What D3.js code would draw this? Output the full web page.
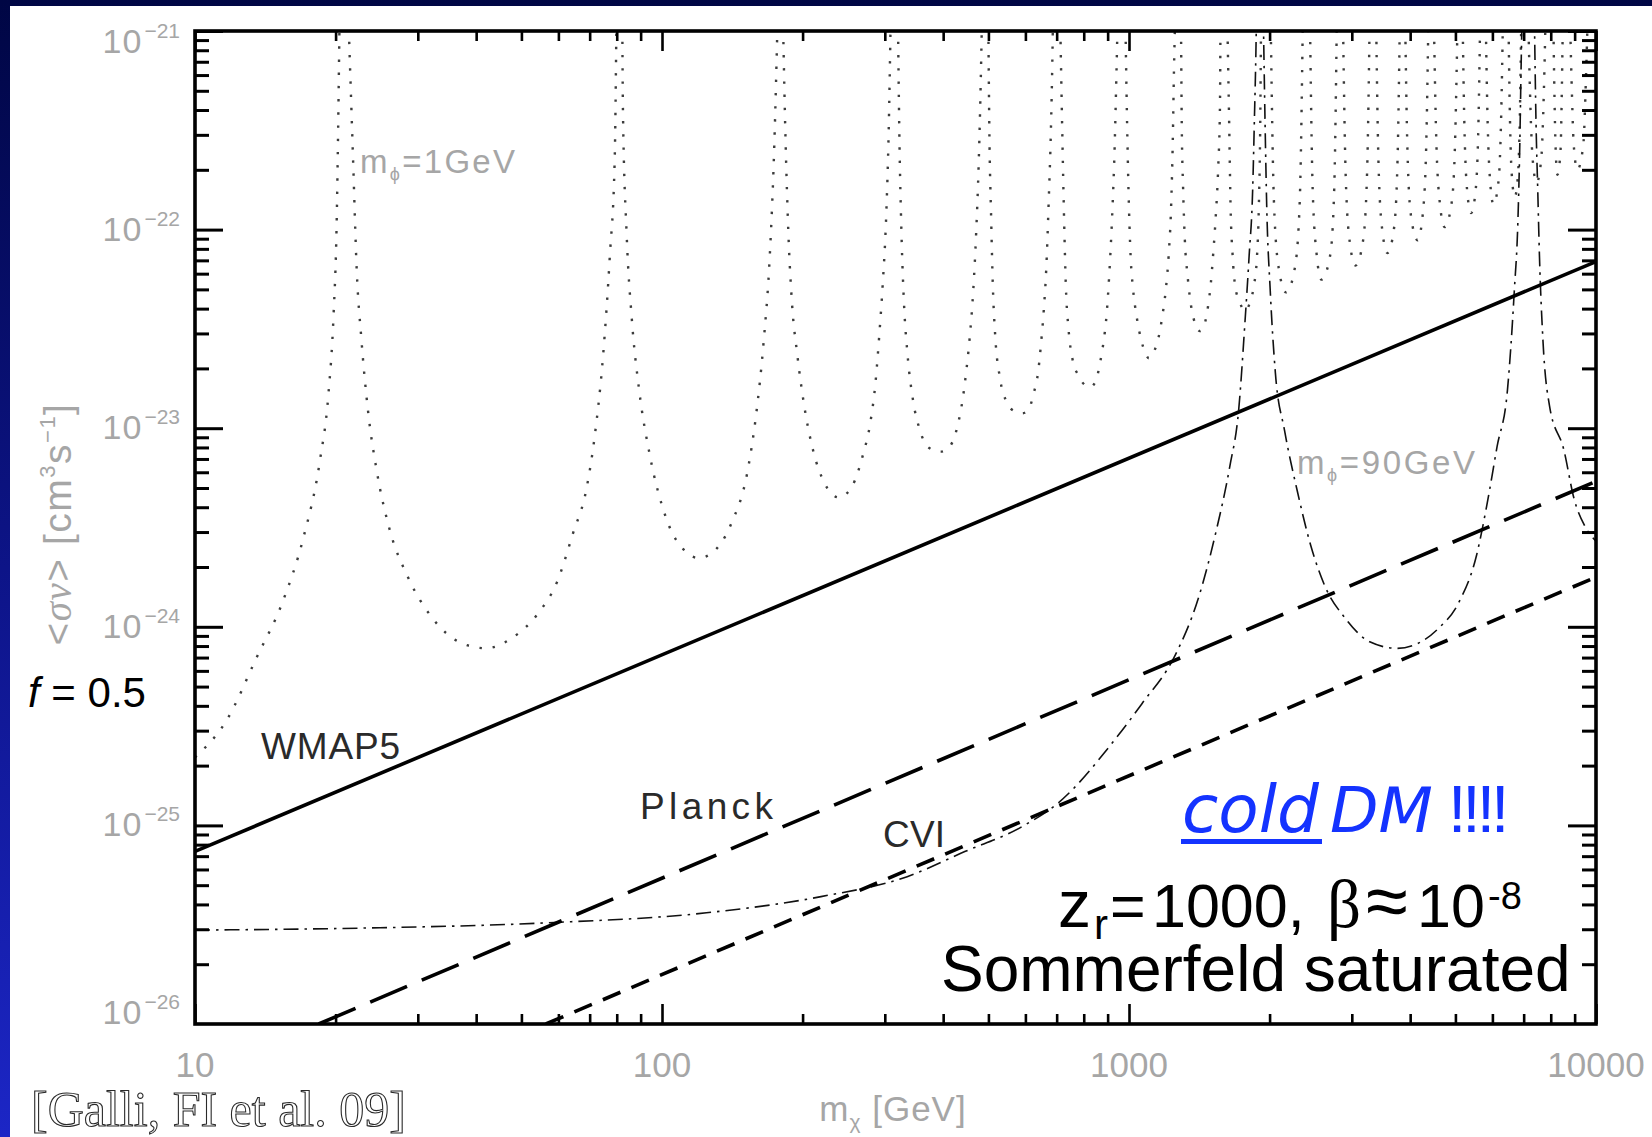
<!DOCTYPE html>
<html>
<head>
<meta charset="utf-8">
<script src="https://cdn.jsdelivr.net/npm/d3@7"></script>
<style>
html, body { margin: 0; padding: 0; background: #fff; overflow: hidden; }
svg { display: block; }
</style>
</head>
<body>
<svg id="chart" width="1652" height="1137"></svg>
<script>
// ---- axis ranges and tick labels ----
const massDomain = [10, 10000];           // m_chi [GeV]
const sigmaDomain = [1e-26, 1e-21];       // <sigma v> [cm^3 s^-1]
const xTickValues = [10, 100, 1000, 10000];
const xTickLabels = ["10", "100", "1000", "10000"];
const yTickValues = [1e-21, 1e-22, 1e-23, 1e-24, 1e-25, 1e-26];
const yTickExponents = ["\u221221", "\u221222", "\u221223", "\u221224", "\u221225", "\u221226"];

// ---- CMB constraint lines [m_chi, <sigma v>] ----
const wmap5 = [[10, 7.4e-26], [10000, 6.9e-23]];
const planck = [[18.4, 1e-26], [10000, 5.4e-24]];
const cvi = [[56.4, 1e-26], [10000, 1.78e-24]];

// ---- Sommerfeld-enhanced cross section, m_phi = 90 GeV (pieces between resonances) ----
const phi90Segments = [
  [[10, 2.97e-26], [22.8, 3.04e-26], [56.4, 3.23e-26], [124.5, 3.63e-26], [219, 4.38e-26],
   [335, 5.52e-26], [445, 7.38e-26], [590, 9.86e-26], [706, 1.3e-25], [940, 2.77e-25],
   [1066, 4.1e-25], [1256, 7.2e-25], [1406, 1.38e-24], [1534, 2.98e-24], [1644, 6.43e-24],
   [1717, 1.23e-23], [1771, 3.39e-23], [1808, 7.36e-23], [1840, 1.59e-22], [1855, 3.44e-22],
   [1871, 8.7e-22], [1875, 1.2e-21]],
  [[1939, 1.2e-21], [1956, 3.44e-22], [1972, 1.31e-22], [2006, 4.99e-23], [2058, 1.9e-23],
   [2152, 9.8e-24], [2289, 4.91e-24], [2451, 2.56e-24], [2625, 1.61e-24], [2908, 1.1e-24],
   [3277, 8.4e-25], [3750, 7.79e-25], [4150, 8.24e-25], [4595, 9.8e-25], [5088, 1.33e-24],
   [5546, 2.28e-24], [5834, 4.06e-24], [6141, 8.09e-24], [6463, 1.56e-23], [6687, 4.99e-23],
   [6802, 1.08e-22], [6860, 2.34e-22], [6919, 7.46e-22], [6946, 1.2e-21]],
  [[7379, 1.2e-21], [7440, 3.44e-22], [7503, 1.59e-22], [7567, 7.36e-23], [7697, 2.79e-23],
   [7950, 1.3e-23], [8532, 7.8e-24], [8980, 4.39e-24], [9460, 3.22e-24], [10000, 2.7e-24]]
];

// ---- Sommerfeld-enhanced cross section, m_phi = 1 GeV (one lobe between neighbouring resonances) ----
const phi1Lobes = [
  [[10, 2.2e-25], [11.7, 3.4e-25], [13.55, 7.0e-25], [15.45, 1.36e-24], [17.06, 2.8e-24],
   [18.5, 6.8e-24], [19.3, 1.47e-23], [19.8, 3.7e-23], [20.1, 1.04e-22], [20.4, 1.2e-21]],
  [[21.3, 1.2e-21], [21.8, 2.26e-22], [22.2, 6.2e-23], [22.7, 2.86e-23], [23.5, 1.19e-23],
   [24.5, 6.1e-24], [26.1, 3.1e-24], [28.6, 1.77e-24], [32.2, 1.11e-24], [36.9, 8.35e-25],
   [42.0, 7.8e-25], [47.8, 8.8e-25], [54.3, 1.17e-24], [59.6, 1.68e-24], [64.5, 2.96e-24],
   [68.9, 4.95e-24], [71.8, 9.2e-24], [74.8, 2.33e-23], [77.3, 7.3e-23], [79.2, 2.26e-22],
   [79.9, 1.2e-21]],
  [[82.2, 1.2e-21], [82.5, 3.87e-22], [84.0, 9.53e-23], [86.2, 3.51e-23], [89.3, 1.57e-23],
   [94.1, 7.38e-24], [101.8, 3.59e-24], [113.1, 2.36e-24], [119.8, 2.22e-24], [126.8, 2.32e-24],
   [140.8, 3.32e-24], [152.4, 6.04e-24], [159.2, 1.19e-23], [164.9, 2.65e-23], [170.2, 7.5e-23],
   [173.9, 2.59e-22], [176.9, 1.2e-21]],
  [[181.5, 1.2e-21], [183.3, 3.87e-22], [186.5, 9.53e-23], [189.8, 4.29e-23], [194.8, 2.36e-23],
   [201.7, 1.29e-23], [210.8, 7.68e-24], [222.2, 5.36e-24], [239.1, 4.48e-24], [255.7, 5.14e-24],
   [269.5, 7.38e-24], [279.2, 1.06e-23], [286.6, 1.71e-23], [291.7, 2.87e-23], [296.8, 5.23e-23],
   [302.0, 1.16e-22], [305.8, 3.16e-22], [308.9, 1.2e-21]],
  [[320, 1.2e-21], [322.2, 3.16e-22], [325.7, 9.53e-23], [329.7, 4.29e-23], [335.5, 2.36e-23],
   [344.5, 1.4e-23], [356.8, 9.75e-24], [372.8, 7.97e-24], [395.1, 7.62e-24], [414.1, 8.15e-24],
   [429.1, 1.02e-23], [440.4, 1.4e-23], [448.1, 1.92e-23], [456.0, 2.87e-23], [464.2, 5.03e-23],
   [470.6, 9.53e-23], [476.5, 2.12e-22], [480.7, 4.72e-22], [484.5, 1.2e-21]],
  [[499.6, 1.2e-21], [502.3, 3.16e-22], [506.7, 1.16e-22], [511.0, 5.23e-23], [517.3, 2.87e-23],
   [529.5, 1.78e-23], [548.3, 1.34e-23], [568.0, 1.22e-23], [591.4, 1.19e-23], [609.2, 1.24e-23],
   [625.6, 1.51e-23], [638.9, 1.92e-23], [647.9, 2.65e-23], [657.0, 3.95e-23], [665.1, 6.4e-23],
   [673.3, 1.42e-22], [680.4, 3.16e-22], [685.2, 7.0e-22], [687.6, 1.2e-21]],
  [[712, 1.2e-21], [719.5, 3.16e-22], [725.9, 1.16e-22], [732.4, 5.23e-23], [742.6, 3.11e-23],
   [758.5, 2.17e-23], [778.7, 1.85e-23], [806.7, 1.64e-23], [825.1, 1.61e-23], [850.0, 1.74e-23],
   [865.0, 2.08e-23], [880.6, 2.65e-23], [896.0, 3.8e-23], [907.1, 5.9e-23], [920.1, 1.16e-22],
   [931.6, 2.59e-22], [939.4, 5.76e-22], [946, 1.2e-21]],
  [[982, 1.2e-21], [990.6, 3.44e-22], [997.5, 1.59e-22], [1007.9, 7.38e-23], [1020.4, 5.0e-23],
   [1038.2, 3.66e-23], [1061.6, 2.79e-23], [1084.2, 2.39e-23], [1103.1, 2.25e-23], [1132.2, 2.44e-23],
   [1158.3, 2.9e-23], [1178.5, 3.66e-23], [1199.1, 5.0e-23], [1215.8, 7.38e-23], [1230.8, 1.31e-22],
   [1241.1, 2.84e-22], [1248, 6.2e-22], [1256, 1.2e-21]],
  [[1292, 1.2e-21], [1297, 3.44e-22], [1306, 1.59e-22], [1316.9, 8.9e-23], [1335.2, 5.82e-23],
   [1358.5, 4.11e-23], [1387.6, 3.33e-23], [1419.1, 3.08e-23], [1450.8, 3.33e-23], [1476.6, 4.11e-23],
   [1497.2, 5.38e-23], [1515, 7.62e-23], [1534, 1.17e-22], [1552.8, 2.08e-22], [1566, 4.18e-22],
   [1570, 1.2e-21]],
  [[1623, 1.2e-21], [1638.7, 3.44e-22], [1650, 1.31e-22], [1667, 7.38e-23], [1688, 5.19e-23],
   [1723.5, 4.36e-23], [1771.8, 3.9e-23], [1818.8, 4.36e-23], [1850.5, 5.19e-23], [1880, 7.38e-23],
   [1897, 1.31e-22], [1910, 3.44e-22], [1918, 1.2e-21]],
  [[2010, 1.2e-21], [2043, 1.4e-22], [2092, 6.4e-23], [2170, 4.83e-23], [2265, 6.4e-23], [2321, 1.4e-22], [2357, 1.2e-21]],
  [[2440, 1.2e-21], [2473, 1.62e-22], [2523, 7.45e-23], [2582, 5.6e-23], [2697, 7.45e-23], [2751, 1.62e-22], [2787, 1.2e-21]],
  [[2871, 1.2e-21], [2910, 1.91e-22], [2968, 8.76e-23], [3055, 6.59e-23], [3170, 8.76e-23], [3234, 1.91e-22], [3277, 1.2e-21]],
  [[3381, 1.2e-21], [3421, 2.21e-22], [3483, 1.01e-22], [3575, 7.63e-23], [3693, 1.01e-22], [3758, 2.21e-22], [3803, 1.2e-21]],
  [[3901, 1.2e-21], [3946, 2.56e-22], [4015, 1.18e-22], [4150, 8.84e-23], [4254, 1.18e-22], [4328, 2.56e-22], [4378, 1.2e-21]],
  [[4494, 1.2e-21], [4547, 2.99e-22], [4629, 1.37e-22], [4740, 1.03e-22], [4909, 1.37e-22], [4996, 2.99e-22], [5055, 1.2e-21]],
  [[5179, 1.2e-21], [5224, 3.5e-22], [5293, 1.61e-22], [5400, 1.21e-22], [5529, 1.61e-22], [5602, 3.5e-22], [5651, 1.2e-21]],
  [[5804, 1.2e-21], [5854, 3.9e-22], [5930, 1.78e-22], [6030, 1.34e-22], [6188, 1.78e-22], [6268, 3.9e-22], [6322, 1.2e-21]],
  [[6493, 1.2e-21], [6535, 4.2e-22], [6597, 1.94e-22], [6700, 1.46e-22], [6812, 1.94e-22], [6876, 4.2e-22], [6920, 1.2e-21]],
  [[7160, 1.2e-21], [7221, 5.0e-22], [7315, 2.29e-22], [7460, 1.72e-22], [7636, 2.29e-22], [7734, 5.0e-22], [7800, 1.2e-21]],
  [[8100, 1.2e-21], [8139, 5.5e-22], [8198, 2.5e-22], [8270, 1.89e-22], [8395, 2.5e-22], [8455, 5.5e-22], [8495, 1.2e-21]],
  [[8795, 1.2e-21], [8862, 5.8e-22], [8962, 2.66e-22], [9120, 2.0e-22], [9392, 2.66e-22], [9517, 5.8e-22], [9600, 1.2e-21]]
];

// ---- drawing ----
const W = 1652, H = 1137;
const plot = { left: 195, right: 1596, top: 31, bottom: 1024 };
const svg = d3.select("#chart");

const x = d3.scaleLog().domain(massDomain).range([plot.left, plot.right]);
const y = d3.scaleLog().domain(sigmaDomain).range([plot.bottom, plot.top]);

const defs = svg.append("defs");
const grad = defs.append("linearGradient").attr("id", "slideBg")
  .attr("x1", 0).attr("y1", 0).attr("x2", 0).attr("y2", 1);
grad.append("stop").attr("offset", "0%").attr("stop-color", "#000644");
grad.append("stop").attr("offset", "50%").attr("stop-color", "#0d1488");
grad.append("stop").attr("offset", "100%").attr("stop-color", "#1c26c6");
defs.append("clipPath").attr("id", "plotClip").append("rect")
  .attr("x", plot.left).attr("y", plot.top)
  .attr("width", plot.right - plot.left).attr("height", plot.bottom - plot.top);

// slide background and white figure panel
svg.append("rect").attr("width", W).attr("height", H).attr("fill", "url(#slideBg)");
svg.append("rect").attr("x", 10).attr("y", 6).attr("width", W - 10).attr("height", H - 6).attr("fill", "#fff");

const curves = svg.append("g").attr("clip-path", "url(#plotClip)");
const straight = d3.line().x(d => x(d[0])).y(d => y(d[1]));
const smooth = d3.line().x(d => x(d[0])).y(d => y(d[1])).curve(d3.curveMonotoneX);

// m_phi = 1 GeV : dotted
curves.selectAll("path.phi1").data(phi1Lobes).join("path")
  .attr("class", "phi1").attr("d", smooth)
  .attr("fill", "none").attr("stroke", "#3c3c3c").attr("stroke-width", 2.4)
  .attr("stroke-dasharray", "2.4,10.8");

// m_phi = 90 GeV : dash-dot
curves.selectAll("path.phi90").data(phi90Segments).join("path")
  .attr("class", "phi90").attr("d", smooth)
  .attr("fill", "none").attr("stroke", "#111").attr("stroke-width", 1.6)
  .attr("stroke-dasharray", "15,6,2.5,6");

// constraint lines
curves.append("path").datum(wmap5).attr("d", straight)
  .attr("fill", "none").attr("stroke", "#000").attr("stroke-width", 3.6);
curves.append("path").datum(planck).attr("d", straight)
  .attr("fill", "none").attr("stroke", "#000").attr("stroke-width", 3.6)
  .attr("stroke-dasharray", "40,16");
curves.append("path").datum(cvi).attr("d", straight)
  .attr("fill", "none").attr("stroke", "#000").attr("stroke-width", 3.6)
  .attr("stroke-dasharray", "19,12");

// axes: minor and major ticks on all four sides, pointing inward
const isMajor = v => Math.abs(Math.log10(v) - Math.round(Math.log10(v))) < 1e-9;
const xAll = x.ticks(), yAll = y.ticks();
const xMinor = xAll.filter(v => !isMajor(v)), xMajor = xAll.filter(isMajor);
const yMinor = yAll.filter(v => !isMajor(v)), yMajor = yAll.filter(isMajor);

function tickGroup(axis, tx, ty, width) {
  const g = svg.append("g").attr("transform", `translate(${tx},${ty})`).call(axis);
  g.select(".domain").remove();
  g.selectAll("text").remove();
  g.selectAll("line").attr("stroke", "#000").attr("stroke-width", width);
}
tickGroup(d3.axisBottom(x).tickValues(xMinor).tickSize(-10), 0, plot.bottom, 2.6);
tickGroup(d3.axisBottom(x).tickValues(xMajor).tickSize(-20), 0, plot.bottom, 2.6);
tickGroup(d3.axisTop(x).tickValues(xMinor).tickSize(-10), 0, plot.top, 2.6);
tickGroup(d3.axisTop(x).tickValues(xMajor).tickSize(-20), 0, plot.top, 2.6);
tickGroup(d3.axisLeft(y).tickValues(yMinor).tickSize(-14), plot.left, 0, 3);
tickGroup(d3.axisLeft(y).tickValues(yMajor).tickSize(-28), plot.left, 0, 3);
tickGroup(d3.axisRight(y).tickValues(yMinor).tickSize(-14), plot.right, 0, 3);
tickGroup(d3.axisRight(y).tickValues(yMajor).tickSize(-28), plot.right, 0, 3);

svg.append("rect").attr("x", plot.left).attr("y", plot.top)
  .attr("width", plot.right - plot.left).attr("height", plot.bottom - plot.top)
  .attr("fill", "none").attr("stroke", "#000").attr("stroke-width", 3.6);

// tick labels (grey, IDL style)
const grey = "#a6a6a6";
const sans = "'Liberation Sans', Arial, sans-serif";
const labels = svg.append("g").attr("font-family", sans).attr("fill", grey);
labels.selectAll("text.xl").data(xTickValues).join("text")
  .attr("class", "xl").attr("x", d => x(d)).attr("y", plot.bottom + 53)
  .attr("text-anchor", "middle").attr("font-size", 35)
  .text((d, i) => xTickLabels[i]);
yTickValues.forEach((v, i) => {
  const cy = Math.max(plot.top + 11, Math.min(plot.bottom - 11, y(v)));
  const t = labels.append("text").attr("x", 180).attr("y", cy + 11)
    .attr("text-anchor", "end");
  t.append("tspan").attr("font-size", 34).attr("letter-spacing", 1).text("10");
  t.append("tspan").attr("font-size", 21).attr("dx", 2).attr("dy", -15).text(yTickExponents[i]);
});

// axis titles
const xt = labels.append("text").attr("x", 893).attr("y", 1121).attr("text-anchor", "middle")
  .attr("font-size", 35).attr("letter-spacing", 1);
xt.append("tspan").text("m");
xt.append("tspan").attr("font-size", 21).attr("dy", 8).text("\u03c7");
xt.append("tspan").attr("dy", -8).text(" [GeV]");

const yt = labels.append("text").attr("transform", "translate(71,524) rotate(-90)")
  .attr("text-anchor", "middle").attr("font-size", 39).attr("letter-spacing", 1.5);
yt.append("tspan").text("<");
yt.append("tspan").attr("font-family", "'Liberation Serif', serif").attr("font-style", "italic").text("\u03c3v");
yt.append("tspan").text("> [cm");
yt.append("tspan").attr("font-size", 22).attr("dy", -16).text("3");
yt.append("tspan").attr("dy", 16).text("s");
yt.append("tspan").attr("font-size", 22).attr("dy", -16).text("\u22121");
yt.append("tspan").attr("dy", 16).text("]");

// curve labels
function massLabel(xp, yp, mass, len) {
  const t = labels.append("text").attr("x", xp).attr("y", yp).attr("font-size", 33)
    .attr("textLength", len).attr("lengthAdjust", "spacing");
  t.append("tspan").text("m");
  t.append("tspan").attr("font-size", 18).attr("dy", 7).text("\u03d5");
  t.append("tspan").attr("dy", -7).text("=" + mass);
}
massLabel(360, 173, "1GeV", 155);
massLabel(1297, 474, "90GeV", 178);

const dark = svg.append("g").attr("font-family", sans).attr("fill", "#2a2a2a").attr("font-size", 37)
  .attr("lengthAdjust", "spacing");
dark.append("text").attr("x", 261).attr("y", 759).attr("textLength", 139).text("WMAP5");
dark.append("text").attr("x", 640).attr("y", 819).attr("textLength", 133).text("Planck");
dark.append("text").attr("x", 883).attr("y", 847).attr("textLength", 62).text("CVI");

// slide annotations
const note = svg.append("g").attr("font-family", sans).attr("fill", "#000");
const fl = note.append("text").attr("x", 28).attr("y", 707).attr("font-size", 42);
fl.append("tspan").attr("font-style", "italic").text("f");
fl.append("tspan").text(" = 0.5");

const blue = "#1433ff";
note.append("text").attr("x", 1182).attr("y", 832).attr("font-family", "'DejaVu Sans', sans-serif")
  .attr("font-style", "italic").attr("font-size", 66).attr("fill", blue).text("cold");
note.append("rect").attr("x", 1181).attr("y", 839).attr("width", 141).attr("height", 5).attr("fill", blue);
note.append("text").attr("x", 1330).attr("y", 832).attr("font-family", "'DejaVu Sans', sans-serif")
  .attr("font-style", "italic").attr("font-size", 63).attr("fill", blue).text("DM");
note.append("text").attr("x", 1448).attr("y", 832).attr("font-size", 66).attr("letter-spacing", -4)
  .attr("fill", blue).text("!!!!");

// redshift / velocity line, set piece by piece
const zrPieces = [
  { t: "z", x: 1058, y: 927, size: 66 },
  { t: "r", x: 1094, y: 939, size: 42 },
  { t: "=", x: 1110, y: 927, size: 61 },
  { t: "1000,", x: 1152, y: 927, size: 61 },
  { t: "\u03b2", x: 1327, y: 927, size: 67, serif: true },
  { t: "\u2248", x: 1366, y: 927, size: 76 },
  { t: "10", x: 1417, y: 927, size: 61 },
  { t: "-8", x: 1488, y: 909, size: 38 }
];
zrPieces.forEach(p => {
  note.append("text").attr("x", p.x).attr("y", p.y).attr("font-size", p.size)
    .attr("font-family", p.serif ? "'Liberation Serif', serif" : sans)
    .text(p.t);
});

note.append("text").attr("x", 941).attr("y", 991).attr("font-size", 64).text("Sommerfeld saturated");

note.append("text").attr("x", 31).attr("y", 1126)
  .attr("font-family", "'Liberation Serif', 'Times New Roman', serif").attr("font-size", 50)
  .attr("fill", "#fff").attr("stroke", "#2a2a2a").attr("stroke-width", 1.1)
  .text("[Galli, FI et al. 09]");
</script>
</body>
</html>
